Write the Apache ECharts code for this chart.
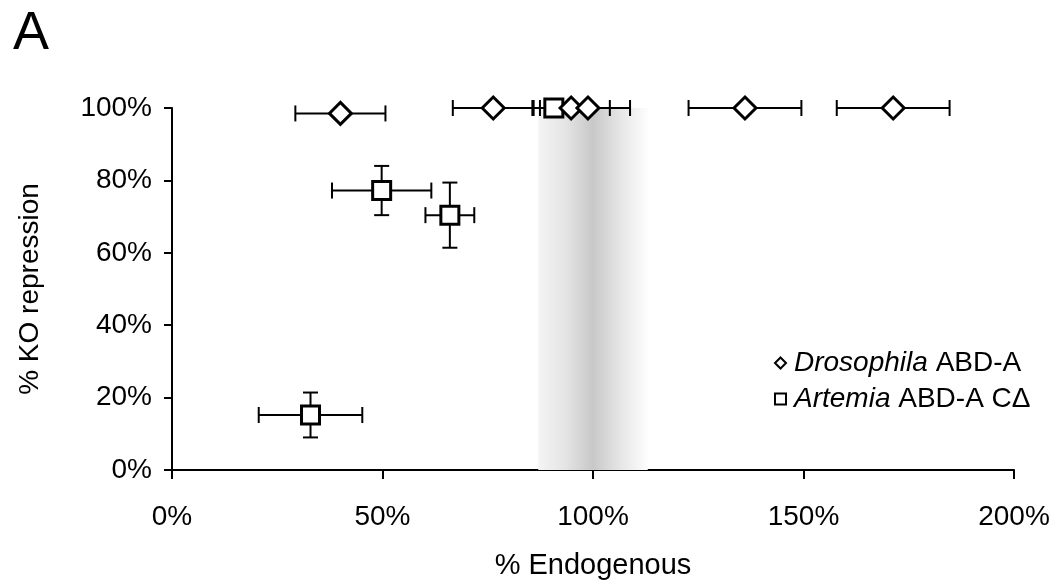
<!DOCTYPE html>
<html>
<head>
<meta charset="utf-8">
<script src="https://cdn.jsdelivr.net/npm/echarts@6/dist/echarts.min.js"></script>
<style>
  html, body { margin: 0; padding: 0; background: #fff; }
  #chart { width: 1058px; height: 585px; }
</style>
</head>
<body>
<div id="chart"></div>
<script>
// Drosophila ABD-A: % endogenous (x), % KO repression (y), x error
const droX = [40, 76.3, 94.8, 98.8, 136.1, 171.3]
const droY = [98.5, 100, 100, 100, 100, 100]
const droXErr = [10.7, 9.6, 9.2, 10, 13.4, 13.4]
const droYErr = [0, 0, 0, 0, 0, 0]

// Artemia ABD-A CΔ
const artX = [90.7, 49.8, 66.0, 32.9]
const artY = [100, 77.2, 70.4, 15.2]
const artXErr = [3.3, 11.8, 5.8, 12.3]
const artYErr = [0, 6.8, 9, 6.2]

// shaded "endogenous" band on the x axis
const bandRange = [87, 113]

const xTicks = [0, 200, 50]
const yTicks = [0, 100, 20]

const seriesNames = ['Drosophila ABD-A', 'Artemia ABD-A C\u0394']
const legendLabels = {
  'Drosophila ABD-A': '{g| }{i|Drosophila} ABD-A',
  'Artemia ABD-A C\u0394': '{g| }{i|Artemia} ABD-A C\u0394'
}

const FONT = '"Liberation Sans", Arial, sans-serif'

function zip(xs, ys, exs, eys) {
  return xs.map((x, i) => [x, ys[i], exs[i], eys[i]])
}

function renderErr(params, api) {
  const x = api.value(0)
  const y = api.value(1)
  const ex = api.value(2)
  const ey = api.value(3)
  const style = { stroke: '#000', lineWidth: 2, fill: null }
  const children = []
  const line = (x1, y1, x2, y2) => children.push({
    type: 'line',
    shape: { x1, y1, x2, y2 },
    style
  })
  if (ex > 0) {
    const l = api.coord([x - ex, y])
    const r = api.coord([x + ex, y])
    line(l[0], l[1], r[0], r[1])
    line(l[0], l[1] - 8, l[0], l[1] + 8)
    line(r[0], r[1] - 8, r[0], r[1] + 8)
  }
  if (ey > 0) {
    const t = api.coord([x, y + ey])
    const b = api.coord([x, y - ey])
    line(t[0], t[1], b[0], b[1])
    line(t[0] - 7.5, t[1], t[0] + 7.5, t[1])
    line(b[0] - 7.5, b[1], b[0] + 7.5, b[1])
  }
  return { type: 'group', children }
}

const chart = echarts.init(document.getElementById('chart'))

chart.setOption({
  animation: false,
  backgroundColor: '#fff',
  textStyle: { fontFamily: FONT, color: '#000' },
  title: {
    text: 'A',
    left: 8,
    top: 2,
    textStyle: { fontFamily: FONT, fontSize: 54, fontWeight: 'normal', color: '#000' }
  },
  grid: { left: 172, right: 44, top: 108, bottom: 115 },
  legend: {
    data: seriesNames,
    orient: 'vertical',
    left: 769,
    top: 344,
    itemWidth: 11,
    itemHeight: 11,
    itemGap: 8,
    itemStyle: { color: '#fff', borderColor: '#000', borderWidth: 2 },
    formatter: name => legendLabels[name],
    textStyle: {
      fontFamily: FONT,
      fontSize: 28,
      color: '#000',
      lineHeight: 28,
      rich: {
        g: { width: 3, fontSize: 28 },
        i: { fontStyle: 'italic', fontSize: 28, fontFamily: FONT, color: '#000' }
      }
    }
  },
  xAxis: {
    type: 'value',
    min: xTicks[0],
    max: xTicks[1],
    interval: xTicks[2],
    name: '% Endogenous',
    nameLocation: 'middle',
    nameGap: 81,
    nameTextStyle: { fontFamily: FONT, fontSize: 29, color: '#000' },
    axisLine: { lineStyle: { color: '#000', width: 2 } },
    axisTick: { inside: false, length: 9, lineStyle: { color: '#000', width: 2 } },
    axisLabel: { formatter: '{value}%', fontFamily: FONT, fontSize: 28, color: '#000', margin: 33 },
    splitLine: { show: false }
  },
  yAxis: {
    type: 'value',
    min: yTicks[0],
    max: yTicks[1],
    interval: yTicks[2],
    name: '% KO repression',
    nameLocation: 'middle',
    nameGap: 128,
    nameTextStyle: { fontFamily: FONT, fontSize: 28, color: '#000' },
    axisLine: { show: true, lineStyle: { color: '#000', width: 2 } },
    axisTick: { show: true, inside: false, length: 8, lineStyle: { color: '#000', width: 2 } },
    axisLabel: { formatter: '{value}%', fontFamily: FONT, fontSize: 28, color: '#000', margin: 20 },
    splitLine: { show: false }
  },
  series: [
    {
      type: 'line',
      data: [],
      silent: true,
      z: 1,
      markArea: {
        silent: true,
        itemStyle: {
          color: new echarts.graphic.LinearGradient(0, 0, 1, 0, [
            { offset: 0, color: '#f4f4f4' },
            { offset: 0.25, color: '#e4e4e4' },
            { offset: 0.5, color: '#c8c8c8' },
            { offset: 0.75, color: '#e6e6e6' },
            { offset: 1, color: '#fdfdfd' }
          ])
        },
        data: [[{ xAxis: bandRange[0], yAxis: yTicks[0] }, { xAxis: bandRange[1], yAxis: yTicks[1] }]]
      }
    },
    {
      type: 'custom',
      z: 3,
      silent: true,
      renderItem: renderErr,
      encode: { x: 0, y: 1 },
      data: zip(droX, droY, droXErr, droYErr)
    },
    {
      type: 'custom',
      z: 3,
      silent: true,
      renderItem: renderErr,
      encode: { x: 0, y: 1 },
      data: zip(artX, artY, artXErr, artYErr)
    },
    {
      name: seriesNames[1],
      type: 'scatter',
      z: 5,
      symbol: 'rect',
      symbolSize: 18,
      itemStyle: { color: '#fff', borderColor: '#000', borderWidth: 3, opacity: 1 },
      data: artX.map((x, i) => [x, artY[i]])
    },
    {
      name: seriesNames[0],
      type: 'scatter',
      z: 6,
      symbol: 'diamond',
      symbolSize: 22,
      itemStyle: { color: '#fff', borderColor: '#000', borderWidth: 3, opacity: 1 },
      data: droX.map((x, i) => [x, droY[i]])
    }
  ]
})
</script>
</body>
</html>
